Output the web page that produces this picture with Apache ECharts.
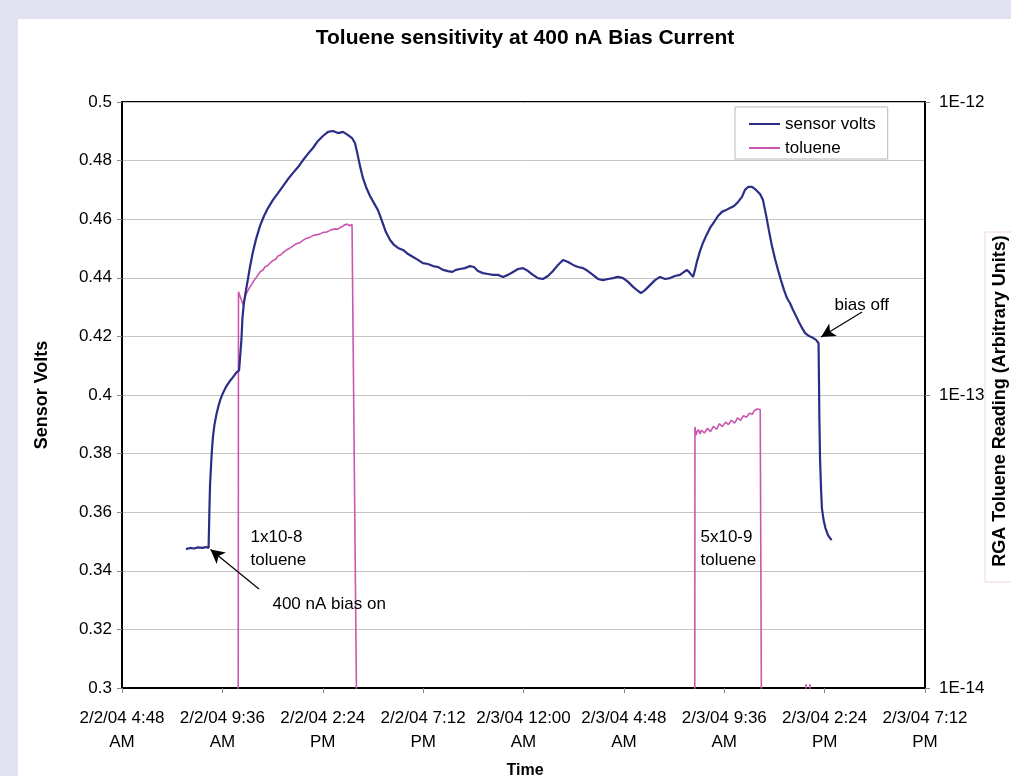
<!DOCTYPE html>
<html>
<head>
<meta charset="utf-8">
<title>Toluene sensitivity at 400 nA Bias Current</title>
<script src="https://cdn.jsdelivr.net/npm/echarts@6/dist/echarts.min.js"></script>
<style>
  html, body { margin: 0; padding: 0; background: #e1e1f1; }
  #chart { width: 1011px; height: 776px; }
</style>
</head>
<body>
<div id="chart"></div>
<script>
// Time is measured in hours from midnight, 2/2/04.
const timeStart = 4.8;   // 2/2/04 4:48 AM
const timeStep = 4.8;    // one tick every 4 h 48 min
const timeTicks = [
  '2/2/04 4:48 AM', '2/2/04 9:36 AM', '2/2/04 2:24 PM', '2/2/04 7:12 PM',
  '2/3/04 12:00 AM', '2/3/04 4:48 AM', '2/3/04 9:36 AM', '2/3/04 2:24 PM', '2/3/04 7:12 PM'
];
const rgaTicks = ['1E-14', '1E-13', '1E-12'];

// Sensor voltage, [hours, volts]
const sensorVolts = [
  [7.86,0.3474],[8.05,0.3478],[8.24,0.3476],[8.43,0.3480],[8.63,0.3478],[8.82,0.3481],[8.94,0.3478],
  [8.96,0.3539],[8.98,0.3608],[9.01,0.3693],[9.06,0.3761],[9.10,0.3812],[9.15,0.3857],[9.22,0.3898],
  [9.32,0.3935],[9.41,0.3962],[9.51,0.3986],[9.63,0.4007],[9.77,0.4027],[9.96,0.4048],[10.11,0.4061],
  [10.25,0.4075],[10.40,0.4085],[10.47,0.4089],[10.51,0.4188],[10.56,0.4263],[10.63,0.4314],
  [10.73,0.4358],[10.83,0.4399],[10.92,0.4437],[11.06,0.4488],[11.21,0.4532],[11.40,0.4577],
  [11.59,0.4611],[11.78,0.4638],[12.02,0.4666],[12.26,0.4689],[12.50,0.4713],[12.74,0.4737],
  [12.98,0.4758],[13.22,0.4778],[13.46,0.4802],[13.69,0.4823],[13.93,0.4843],[14.17,0.4867],
  [14.41,0.4884],[14.65,0.4898],[14.89,0.4901],[15.13,0.4894],[15.37,0.4898],[15.61,0.4887],
  [15.80,0.4877],[15.94,0.4860],[16.04,0.4829],[16.18,0.4782],[16.32,0.4741],[16.47,0.4710],
  [16.66,0.4679],[16.85,0.4655],[17.04,0.4631],[17.23,0.4594],[17.42,0.4556],[17.62,0.4529],
  [17.81,0.4512],[18.00,0.4502],[18.24,0.4495],[18.48,0.4481],[18.72,0.4471],[18.95,0.4461],
  [19.19,0.4450],[19.43,0.4447],[19.67,0.4440],[19.91,0.4437],[20.15,0.4427],[20.39,0.4423],
  [20.58,0.4420],[20.77,0.4427],[20.96,0.4430],[21.20,0.4433],[21.44,0.4440],[21.63,0.4437],
  [21.82,0.4423],[22.06,0.4416],[22.30,0.4413],[22.54,0.4410],[22.78,0.4410],[23.02,0.4403],
  [23.26,0.4410],[23.50,0.4420],[23.74,0.4430],[23.98,0.4433],[24.22,0.4423],[24.45,0.4410],
  [24.69,0.4399],[24.93,0.4396],[25.17,0.4406],[25.41,0.4423],[25.65,0.4444],[25.89,0.4461],
  [26.13,0.4454],[26.37,0.4444],[26.61,0.4437],[26.85,0.4433],[27.08,0.4423],[27.32,0.4410],
  [27.56,0.4396],[27.80,0.4392],[28.04,0.4396],[28.28,0.4399],[28.52,0.4403],[28.76,0.4399],
  [29.00,0.4386],[29.24,0.4369],[29.48,0.4355],[29.62,0.4348],[29.81,0.4358],[30.05,0.4375],
  [30.29,0.4392],[30.53,0.4403],[30.77,0.4396],[31.01,0.4399],[31.24,0.4406],[31.48,0.4410],
  [31.68,0.4420],[31.82,0.4427],[31.96,0.4416],[32.11,0.4403],[32.20,0.4427],[32.30,0.4457],
  [32.44,0.4491],[32.58,0.4519],[32.73,0.4543],[32.92,0.4570],[33.11,0.4590],[33.30,0.4611],
  [33.49,0.4625],[33.68,0.4631],[33.87,0.4638],[34.07,0.4645],[34.26,0.4659],[34.45,0.4676],
  [34.59,0.4700],[34.74,0.4710],[34.93,0.4710],[35.12,0.4700],[35.31,0.4686],[35.45,0.4666],
  [35.60,0.4614],[35.74,0.4560],[35.88,0.4509],[36.03,0.4464],[36.17,0.4427],[36.31,0.4392],
  [36.46,0.4358],[36.60,0.4331],[36.74,0.4314],[36.89,0.4290],[37.03,0.4270],[37.17,0.4249],
  [37.32,0.4229],[37.46,0.4212],[37.65,0.4201],[37.84,0.4195],[37.99,0.4188],[38.11,0.4177],
  [38.13,0.4051],[38.15,0.3915],[38.18,0.3785],[38.23,0.3676],[38.27,0.3614],[38.35,0.3573],
  [38.44,0.3546],[38.56,0.3522],[38.73,0.3505]
];

// RGA toluene reading, [hours, arbitrary units]; readings below 1E-14 stay off scale
const tolueneReading = [
  [7.86,1e-15],[10.35,1e-15],[10.37,2.25e-13],[10.44,2.24e-13],[10.51,2.11e-13],[10.60,2.03e-13],
  [10.66,2.12e-13],[10.73,2.21e-13],[10.82,2.27e-13],[10.92,2.34e-13],[11.00,2.38e-13],
  [11.08,2.44e-13],[11.16,2.46e-13],[11.24,2.53e-13],[11.32,2.55e-13],[11.40,2.63e-13],
  [11.54,2.67e-13],[11.64,2.74e-13],[11.76,2.76e-13],[11.88,2.82e-13],[12.02,2.88e-13],
  [12.14,2.90e-13],[12.26,2.98e-13],[12.40,3.01e-13],[12.54,3.08e-13],[12.68,3.13e-13],
  [12.82,3.17e-13],[12.97,3.22e-13],[13.12,3.28e-13],[13.28,3.30e-13],[13.45,3.37e-13],
  [13.63,3.43e-13],[13.78,3.45e-13],[13.93,3.50e-13],[14.08,3.52e-13],[14.25,3.54e-13],
  [14.42,3.59e-13],[14.59,3.60e-13],[14.79,3.66e-13],[14.99,3.69e-13],[15.10,3.68e-13],
  [15.22,3.72e-13],[15.32,3.75e-13],[15.42,3.80e-13],[15.50,3.86e-13],[15.56,3.83e-13],
  [15.64,3.85e-13],[15.70,3.78e-13],[15.80,3.82e-13],[16.01,1e-14],[16.02,1e-15],
  [32.18,1e-15],[32.20,7.78e-14],[32.25,7.30e-14],[32.30,7.48e-14],[32.37,7.62e-14],
  [32.44,7.36e-14],[32.51,7.58e-14],[32.58,7.66e-14],[32.65,7.42e-14],[32.73,7.48e-14],
  [32.80,7.70e-14],[32.87,7.72e-14],[32.94,7.50e-14],[33.01,7.60e-14],[33.08,7.82e-14],
  [33.16,7.84e-14],[33.23,7.64e-14],[33.30,7.72e-14],[33.37,7.98e-14],[33.44,7.96e-14],
  [33.51,7.80e-14],[33.59,7.84e-14],[33.66,8.08e-14],[33.73,8.15e-14],[33.80,7.92e-14],
  [33.87,7.96e-14],[33.94,8.20e-14],[34.02,8.22e-14],[34.09,8.02e-14],[34.16,8.15e-14],
  [34.23,8.36e-14],[34.31,8.41e-14],[34.38,8.20e-14],[34.45,8.28e-14],[34.52,8.50e-14],
  [34.59,8.55e-14],[34.66,8.40e-14],[34.74,8.48e-14],[34.81,8.66e-14],[34.88,8.68e-14],
  [34.95,8.60e-14],[35.02,8.82e-14],[35.10,8.78e-14],[35.17,8.96e-14],[35.22,8.86e-14],
  [35.26,9.03e-14],[35.32,8.92e-14],[35.38,8.96e-14],[35.43,1e-15],
  [37.50,1e-15],[37.51,1.03e-14],[37.53,1e-15],[37.69,1e-15],[37.70,1.03e-14],[37.72,1e-15],
  [38.73,1e-15]
];

// Notes written on the plot, placed in data units (left edge, vertical centre)
const annotations = [
  { text: '1x10-8\ntoluene', at: [10.92, 0.3476] },
  { text: '400 nA bias on', at: [11.97, 0.3287] },
  { text: '5x10-9\ntoluene', at: [32.44, 0.3476] },
  { text: 'bias off', at: [38.85, 0.4307] }
];
// Arrows: [tail, head]
const arrows = [
  [[11.35, 0.3338], [9.03, 0.3473]],
  [[40.19, 0.4283], [38.23, 0.4198]]
];

const FONT = "'Liberation Sans', Arial, Helvetica, sans-serif";
const BLUE = '#2b2e86';
const PINK = '#cc55b0';

const chart = echarts.init(document.getElementById('chart'), null, { renderer: 'canvas' });

function timeLabel(v) {
  const i = Math.round((v - timeStart) / timeStep);
  const s = timeTicks[i] || '';
  const k = s.lastIndexOf(' ');
  return s.slice(0, k) + '\n' + s.slice(k + 1);
}

chart.setOption({
  animation: false,
  backgroundColor: '#e1e1f1',
  textStyle: { fontFamily: FONT },
  grid: {
    left: 122, right: 86, top: 102, bottom: 88,
    show: true, borderColor: '#000', borderWidth: 2, backgroundColor: '#fff'
  },
  legend: {
    orient: 'vertical',
    left: 735, top: 107,
    icon: 'rect', itemWidth: 31, itemHeight: 2, itemGap: 6,
    padding: [8, 12, 2, 14],
    backgroundColor: '#fff', borderColor: '#b8b8b8', borderWidth: 1,
    textStyle: { fontSize: 17, lineHeight: 18, color: '#000', fontFamily: FONT },
    data: ['sensor volts', 'toluene']
  },
  xAxis: {
    type: 'value',
    min: timeStart, max: timeStart + timeStep * (timeTicks.length - 1), interval: timeStep,
    axisLine: { show: true, lineStyle: { color: '#000', width: 2 } },
    axisTick: { show: true, length: 5, lineStyle: { color: '#888' } },
    splitLine: { show: false },
    axisLabel: {
      formatter: timeLabel, fontSize: 17, lineHeight: 24, margin: 18,
      color: '#000', fontFamily: FONT
    }
  },
  yAxis: [
    {
      type: 'value', min: 0.3, max: 0.5, interval: 0.02,
      axisLine: { show: true, lineStyle: { color: '#000', width: 2 } },
      axisTick: { show: true, length: 5, lineStyle: { color: '#888' } },
      splitLine: { show: true, lineStyle: { color: '#c4c4c4', width: 1 } },
      axisLabel: {
        fontSize: 17, margin: 10, color: '#000', fontFamily: FONT,
        formatter: v => String(parseFloat(v.toFixed(2)))
      }
    },
    {
      type: 'log', logBase: 10, min: 1e-14, max: 1e-12,
      position: 'right',
      axisLine: { show: true, lineStyle: { color: '#000', width: 2 } },
      axisTick: { show: true, length: 5, lineStyle: { color: '#888' } },
      minorTick: { show: false },
      splitLine: { show: false },
      axisLabel: {
        fontSize: 17, margin: 14, color: '#000', fontFamily: FONT,
        formatter: v => rgaTicks[Math.round(Math.log10(v)) + 14] || ''
      }
    }
  ],
  series: [
    {
      name: 'sensor volts', type: 'line', yAxisIndex: 0,
      data: sensorVolts, showSymbol: false, symbol: 'none', clip: true, z: 3,
      lineStyle: { color: BLUE, width: 2.2 }, itemStyle: { color: BLUE },
      markLine: {
        silent: true, symbol: ['none', 'arrow'], symbolSize: [11, 14],
        lineStyle: { color: '#000', width: 1.2, type: 'solid' },
        label: { show: false },
        data: arrows.map(a => [{ coord: a[0] }, { coord: a[1] }])
      },
      markPoint: {
        silent: true, symbol: 'rect', symbolSize: 1,
        itemStyle: { color: 'rgba(0,0,0,0)' },
        label: {
          show: true, position: 'right', distance: 0,
          formatter: p => p.name, color: '#000', fontSize: 17, lineHeight: 23, fontFamily: FONT
        },
        data: annotations.map(a => ({ name: a.text, coord: a.at }))
      }
    },
    {
      name: 'toluene', type: 'line', yAxisIndex: 1,
      data: tolueneReading, showSymbol: false, symbol: 'none', clip: true, z: 2,
      lineStyle: { color: PINK, width: 1.6 }, itemStyle: { color: PINK }
    }
  ],
  graphic: [
    { type: 'rect', z: -10, silent: true,
      shape: { x: 18, y: 19, width: 1011, height: 776 }, style: { fill: '#fff' } },
    { type: 'text', x: 525, y: 38, silent: true,
      style: { text: 'Toluene sensitivity at 400 nA Bias Current', font: 'bold 21px ' + FONT,
               fill: '#000', textAlign: 'center', textVerticalAlign: 'middle', align: 'center', verticalAlign: 'middle' } },
    { type: 'text', x: 42, y: 395, rotation: Math.PI / 2, silent: true,
      style: { text: 'Sensor Volts', font: 'bold 18px ' + FONT,
               fill: '#000', textAlign: 'center', textVerticalAlign: 'middle', align: 'center', verticalAlign: 'middle' } },
    { type: 'rect', silent: true,
      shape: { x: 985, y: 232, width: 40, height: 350 },
      style: { fill: 'none', stroke: '#efd4e8', lineWidth: 1 } },
    { type: 'text', x: 1000, y: 401, rotation: Math.PI / 2, silent: true,
      style: { text: 'RGA Toluene Reading (Arbitrary Units)', font: 'bold 18px ' + FONT,
               fill: '#000', textAlign: 'center', textVerticalAlign: 'middle', align: 'center', verticalAlign: 'middle' } },
    { type: 'text', x: 525, y: 771, silent: true,
      style: { text: 'Time', font: 'bold 16px ' + FONT,
               fill: '#000', textAlign: 'center', textVerticalAlign: 'middle', align: 'center', verticalAlign: 'middle' } }
  ]
});
</script>
</body>
</html>
